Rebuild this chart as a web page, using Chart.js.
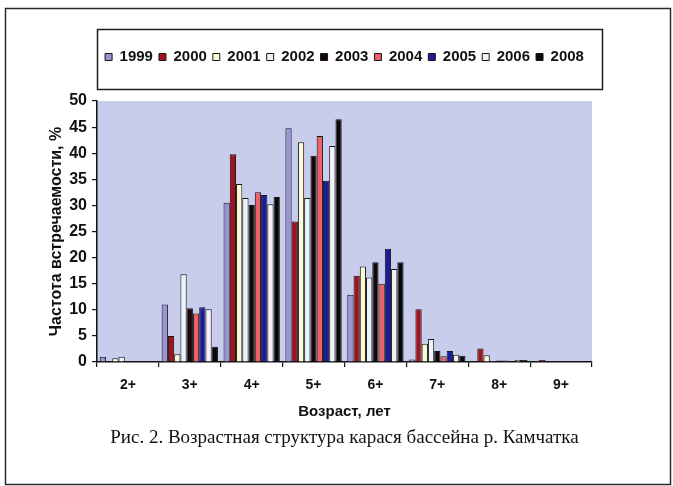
<!DOCTYPE html>
<html>
<head>
<meta charset="utf-8">
<script src="https://cdn.jsdelivr.net/npm/chart.js@4.4.1/dist/chart.umd.min.js"></script>
<style>
  html, body { margin: 0; padding: 0; background: #ffffff; }
  #wrap { width: 673px; height: 486px; position: relative; }
</style>
</head>
<body>
<div id="wrap"><canvas id="c" width="673" height="486"></canvas></div>
<script>
// Age classes
const ages = ['2+', '3+', '4+', '5+', '6+', '7+', '8+', '9+'];
// Frequency of occurrence, % by year
const y1999 = [1.0, 11.0, 30.5, 44.8, 12.9, 0.5, 0.0, 0.0];
const y2000 = [0.0, 5.0, 39.8, 26.9, 16.5, 10.1, 2.6, 0.4];
const y2001 = [0.7, 1.5, 34.1, 42.1, 18.3, 3.5, 1.3, 0.0];
const y2002 = [1.0, 16.8, 31.4, 31.4, 16.2, 4.4, 0.2, 0.0];
const y2003 = [0.0, 10.3, 30.1, 39.5, 19.1, 2.1, 0.3, 0.0];
const y2004 = [0.0, 9.3, 32.5, 43.3, 15.0, 1.1, 0.3, 0.0];
const y2005 = [0.0, 10.5, 32.0, 34.7, 21.7, 2.1, 0.2, 0.0];
const y2006 = [0.0, 10.1, 30.2, 41.4, 17.8, 1.4, 0.4, 0.0];
const y2008 = [0.0, 2.9, 31.6, 46.5, 19.1, 1.2, 0.4, 0.0];
const years = ['1999', '2000', '2001', '2002', '2003', '2004', '2005', '2006', '2008'];
const yTicks = [0, 5, 10, 15, 20, 25, 30, 35, 40, 45, 50];

const seriesValues = [y1999, y2000, y2001, y2002, y2003, y2004, y2005, y2006, y2008];
const fills = ['#9a93d4', '#a3131f', '#fcfad2', '#eef5fa', '#160808', '#ee5f68', '#1c1c98', '#f6f1f8', '#080808'];

const datasets = years.map((yr, i) => ({
  label: yr,
  data: seriesValues[i],
  backgroundColor: fills[i],
  borderColor: '#161616',
  borderWidth: 1,
  borderSkipped: 'start',
  categoryPercentage: 0.91,
  barPercentage: 1.0
}));

// Page frame, plot background and the box around the legend
const decor = {
  id: 'decor',
  beforeDraw(chart) {
    const ctx = chart.ctx;
    const a = chart.chartArea;
    ctx.save();
    ctx.fillStyle = '#ffffff';
    ctx.fillRect(0, 0, chart.width, chart.height);
    ctx.strokeStyle = '#2a2a2a';
    ctx.lineWidth = 1.5;
    ctx.strokeRect(5.5, 8.5, 665, 476);
    ctx.fillStyle = '#c8cdec';
    ctx.fillRect(a.left, a.top, a.right - a.left, a.bottom - a.top);
    const hb = chart.legend.legendHitBoxes;
    if (hb && hb.length) {
      const l = a.left;
      const r = a.right + 10;
      const t = hb[0].top - 20.5;
      const b = hb[0].top + hb[0].height + 24.5;
      ctx.strokeStyle = '#1e1e1e';
      ctx.lineWidth = 1.5;
      ctx.strokeRect(Math.round(l) + 0.5, Math.round(t) + 0.5, Math.round(r - l), Math.round(b - t));
    }
    ctx.restore();
  }
};

new Chart(document.getElementById('c'), {
  type: 'bar',
  data: { labels: ages, datasets },
  plugins: [decor],
  options: {
    responsive: false,
    animation: false,
    devicePixelRatio: 1,
    layout: { padding: { top: 43.5, left: 38, right: 81, bottom: 28 } },
    plugins: {
      tooltip: { enabled: false },
      legend: {
        position: 'top',
        fullSize: false,
        labels: {
          boxWidth: 7,
          boxHeight: 7,
          padding: 6,
          color: '#111',
          font: { family: 'Liberation Sans, Arial, sans-serif', size: 15, weight: 'bold' }
        }
      },
      subtitle: {
        display: true,
        text: '',
        position: 'top',
        weight: 500,
        fullSize: false,
        font: { size: 1 },
        padding: { top: 0, bottom: 25.3 }
      },
      title: {
        display: true,
        text: 'Рис. 2. Возрастная структура карася бассейна р. Камчатка',
        position: 'bottom',
        fullSize: false,
        color: '#111',
        font: { family: 'Liberation Serif, Times New Roman, serif', size: 19, weight: 'normal' },
        padding: { top: 1.6, bottom: 8.6 }
      }
    },
    scales: {
      x: {
        grid: { display: true, drawOnChartArea: false, drawTicks: true, tickLength: 5, color: '#111', lineWidth: 1.2, offset: true },
        border: { display: true, color: '#111', width: 1.5 },
        ticks: {
          color: '#111',
          padding: 9.6,
          font: { family: 'Liberation Sans, Arial, sans-serif', size: 14, weight: 'bold' }
        },
        title: {
          display: true,
          text: 'Возраст, лет',
          color: '#111',
          padding: { top: 0, bottom: 4 },
          font: { family: 'Liberation Sans, Arial, sans-serif', size: 15, weight: 'bold' }
        }
      },
      y: {
        min: 0,
        max: 50,
        afterFit(scale) { scale.width = 59; },
        afterBuildTicks(scale) { scale.ticks = yTicks.map(v => ({ value: v })); },
        grid: { display: true, drawOnChartArea: false, drawTicks: true, tickLength: 5, color: '#111', lineWidth: 1.2 },
        border: { display: true, color: '#111', width: 1.5 },
        ticks: {
          color: '#111',
          padding: 5,
          font: { family: 'Liberation Sans, Arial, sans-serif', size: 16, weight: 'bold' }
        },
        title: {
          display: true,
          text: 'Частота встречаемости, %',
          color: '#111',
          padding: { top: 8.5, bottom: 0 },
          font: { family: 'Liberation Sans, Arial, sans-serif', size: 16, weight: 'bold' }
        }
      }
    }
  }
});
</script>
</body>
</html>
